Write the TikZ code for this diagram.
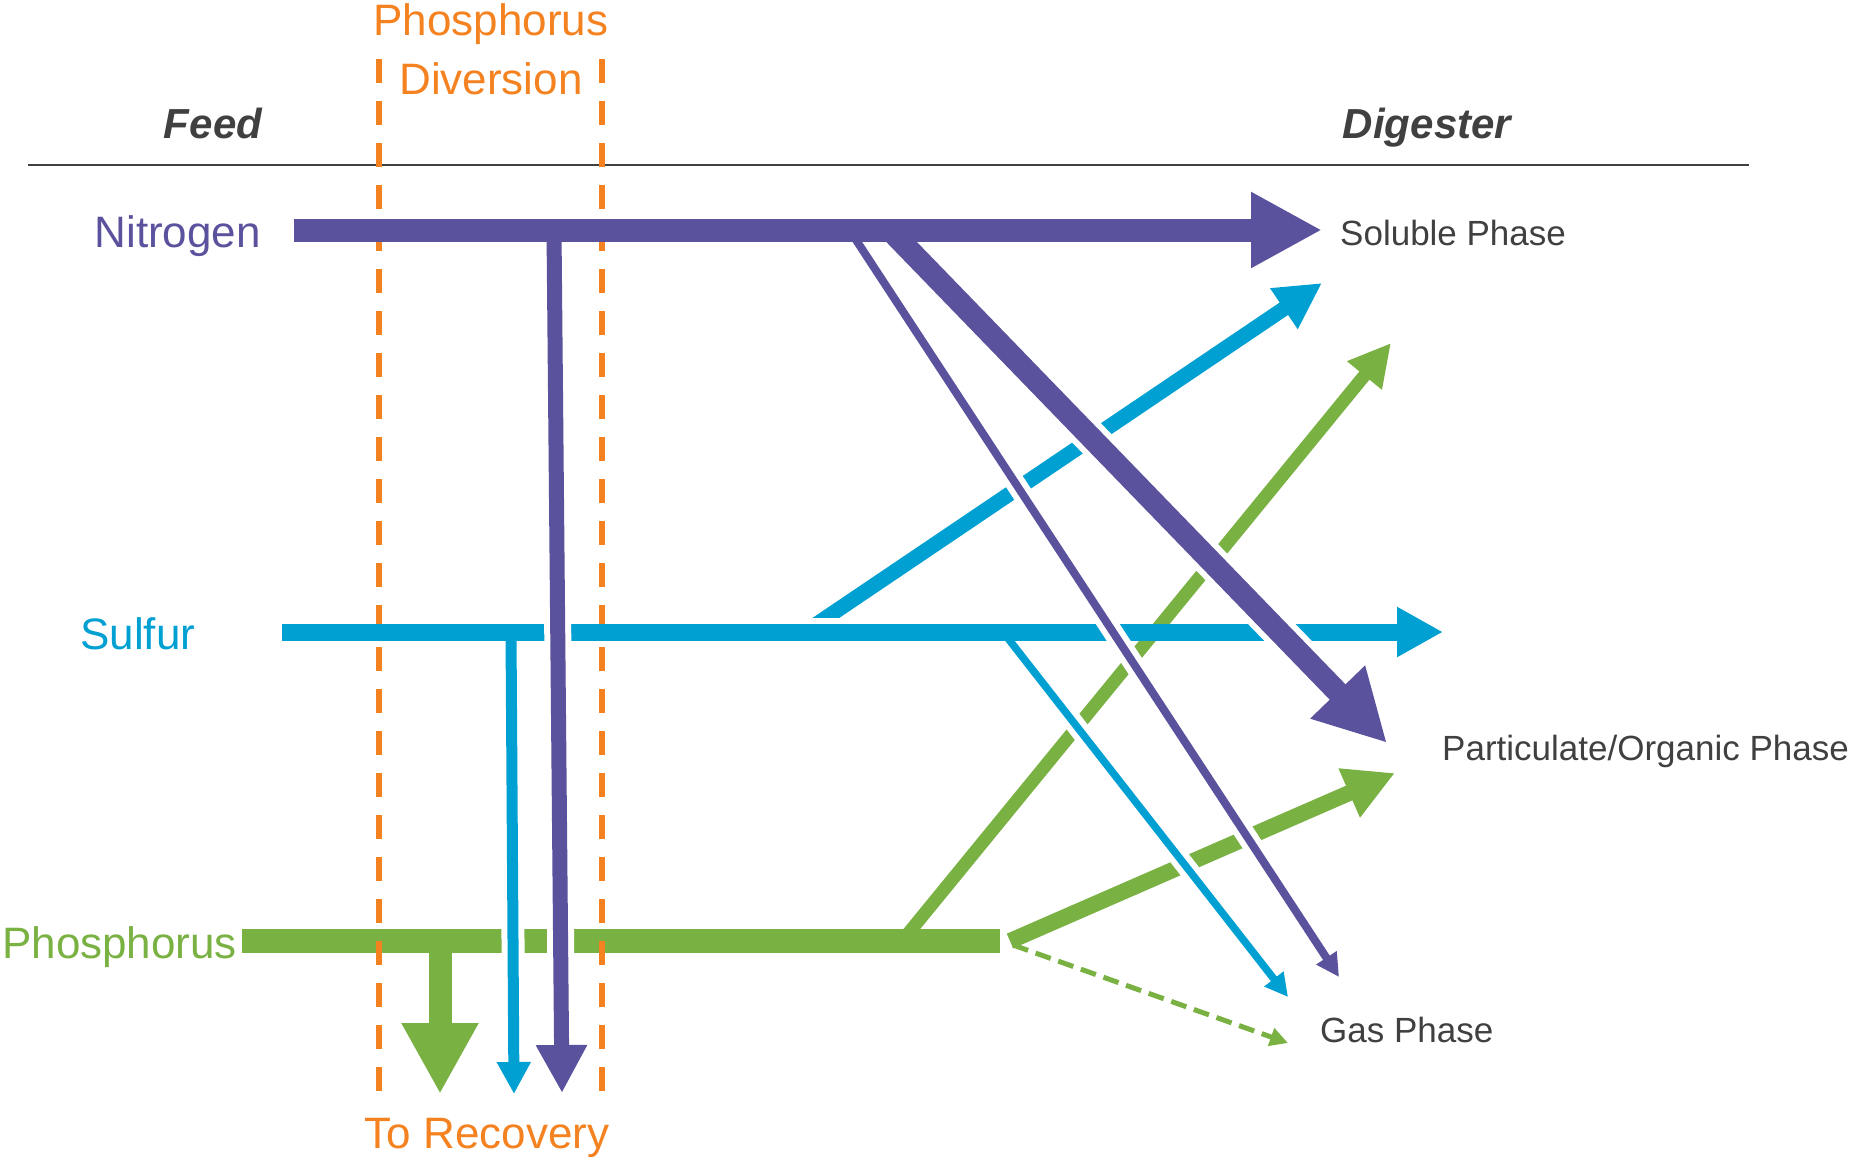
\documentclass[tikz,border=0pt]{standalone}
\usepackage{fontspec}
\setmainfont{Liberation Sans}
\usetikzlibrary{arrows.meta}
\definecolor{npurple}{HTML}{5B529E}
\definecolor{sblue}{HTML}{00A0D3}
\definecolor{pgreen}{HTML}{7AB143}
\definecolor{dorange}{HTML}{F58220}
\definecolor{ink}{HTML}{404040}
\begin{document}
\begin{tikzpicture}[x=1pt,y=-1pt,
  flow/.style={line cap=butt},
  casing/.style={draw=white, line width=#1, line cap=butt},
  elem/.style={font=\fontsize{44}{50}\selectfont, inner sep=0pt, anchor=base},
  phase/.style={font=\fontsize{35}{40}\selectfont, text=ink, inner sep=0pt, anchor=base west},
  zone/.style={font=\fontsize{42}{48}\selectfont\bfseries\itshape, text=ink, inner sep=0pt, anchor=base},
  divider/.style={draw=dorange, line width=6pt, dash pattern=on 24pt off 18pt}
]
\useasboundingbox (0,0) rectangle (1852,1159);

% ---- anchor points -------------------------------------------------
\coordinate (r1) at (28,165);   \coordinate (r2) at (1749,165);
\coordinate (oL1) at (379,59);  \coordinate (oL2) at (379,1093);
\coordinate (oR1) at (602,59);  \coordinate (oR2) at (602,1093);
% nitrogen
\coordinate (nS) at (294,230);  \coordinate (nE) at (1322,230);
\coordinate (nV) at (554,230);  \coordinate (nVt) at (562,1093);
\coordinate (nD) at (849.5,230);\coordinate (nDt) at (1339,977);
\coordinate (nC) at (890,230);  \coordinate (nCt) at (1387,743);
% sulfur
\coordinate (sS) at (282,632);  \coordinate (sE) at (1443,632);
\coordinate (sV) at (511,632);  \coordinate (sVt) at (514,1094);
\coordinate (sG) at (805,632);  \coordinate (sGt) at (1322,283);
\coordinate (sH) at (1003,632); \coordinate (sHt) at (1288,997);
% phosphorus
\coordinate (pS) at (242,941);  \coordinate (pE) at (1000,941);
\coordinate (pV) at (440,941);  \coordinate (pVt) at (440,1094);
\coordinate (pK) at (902,941);  \coordinate (pKt) at (1391,343);
\coordinate (pL) at (1010,941); \coordinate (pLt) at (1395,773);
\coordinate (pM) at (1013,945); \coordinate (pMt) at (1288,1043);

% ---- header rule ----------------------------------------------------
\draw[ink, line width=2.5pt] (r1) -- (r2);

% ---- phosphorus flows -----------------------------------------------
\draw[flow, pgreen, line width=24pt] (pS) -- (pE);
\draw[flow, pgreen, line width=23pt, -{Triangle[length=71pt,width=72pt]}] (pV) -- (pVt);
\draw[flow, pgreen, line width=13pt, -{Triangle[length=42pt,width=42pt]}] (pK) -- (pKt);
\draw[flow, pgreen, line width=16pt, -{Triangle[length=50pt,width=50pt]}] (pL) -- (pLt);
\draw[flow, pgreen, line width=5pt, dash pattern=on 16pt off 8pt, -{Triangle[length=18pt,width=18pt]}] (pM) -- (pMt);

% ---- diversion boundaries ---------------------------------------------
\draw[divider] (oL1) -- (oL2);
\draw[divider] (oR1) -- (oR2);

% ---- sulfur flows -----------------------------------------------------
\draw[flow, sblue, line width=17pt, -{Triangle[length=46pt,width=47pt]}] (sS) -- (sE);
\begin{scope}
  \clip (0,0) rectangle (1852,617);
  \draw[flow, sblue, line width=15pt, -{Triangle[length=46pt,width=46pt]}] (sG) -- (sGt);
\end{scope}
\draw[casing=23pt, shorten <=15pt, shorten >=35pt] (sV) -- (sVt);
\draw[flow, sblue, line width=11pt, -{Triangle[length=32pt,width=32pt]}] (sV) -- (sVt);
\draw[casing=19.5pt, shorten <=22pt, shorten >=25pt] (sH) -- (sHt);
\draw[flow, sblue, line width=7.5pt, -{Triangle[length=23pt,width=23pt]}] (sH) -- (sHt);

% ---- nitrogen flows ---------------------------------------------------
\draw[casing=27pt, shorten <=14pt, shorten >=50pt] (nV) -- (nVt);
\draw[flow, npurple, line width=15pt, -{Triangle[length=48pt,width=48pt]}] (nV) -- (nVt);
\draw[casing=20pt, shorten <=14pt, shorten >=25pt] (nD) -- (nDt);
\draw[flow, npurple, line width=8pt, -{Triangle[length=23pt,width=23pt]}] (nD) -- (nDt);
\draw[casing=34pt, shorten <=14pt, shorten >=72pt] (nC) -- (nCt);
\draw[flow, npurple, line width=22pt, -{Triangle[length=71pt,width=71pt]}] (nC) -- (nCt);
\draw[flow, npurple, line width=23pt, -{Triangle[length=71pt,width=71pt]}] (nS) -- (nE);

% ---- labels -------------------------------------------------------------
\node[elem, text=dorange] (divA) at (491,35) {Phosphorus};
\node[elem, text=dorange] (divB) at (491,94) {Diversion};
\node[zone] (feed) at (213,138) {Feed};
\node[zone] (dig) at (1427,138) {Digester};
\node[elem, text=npurple, anchor=base east] (nit) at (261,247) {Nitrogen};
\node[elem, text=sblue, anchor=base west] (sul) at (80,649) {Sulfur};
\node[elem, text=pgreen, anchor=base west] (pho) at (2,958) {Phosphorus};
\node[elem, text=dorange] (rec) at (487,1148) {To Recovery};
\node[phase] (sol) at (1340,245) {Soluble Phase};
\node[phase] (part) at (1442,760) {Particulate/Organic Phase};
\node[phase] (gas) at (1320,1042) {Gas Phase};
\end{tikzpicture}
\end{document}
